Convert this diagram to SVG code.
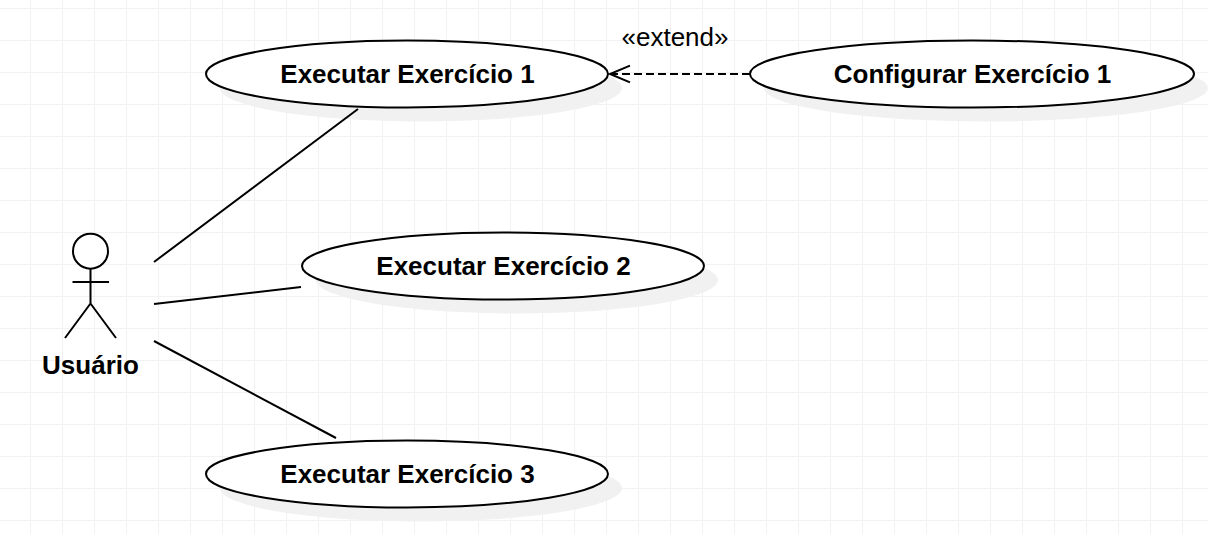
<svg xmlns="http://www.w3.org/2000/svg" width="1208" height="534" viewBox="0 0 1208 534">
<defs>
<pattern id="grid" width="32" height="32" patternUnits="userSpaceOnUse" x="30" y="8">
<path d="M0.5 0V32M0 0.5H32" fill="none" stroke="#f2f2f2" stroke-width="1"/>
</pattern>
<ellipse id="uc" cx="0" cy="0" rx="201" ry="33.5"/>
<marker id="open" markerUnits="userSpaceOnUse" markerWidth="24" markerHeight="24" refX="21" refY="10" orient="auto" overflow="visible">
<path d="M1 1.700L21 10L1 18.300" fill="none" stroke="#000" stroke-width="2"/>
</marker>
</defs>
<style>
.sh{fill:#f1f1f1;stroke:none}
.uc{fill:#fff;stroke:#000;stroke-width:2}
.line{fill:none;stroke:#000;stroke-width:2}
.t{font-family:"Liberation Sans",Arial,sans-serif;font-size:26px;font-weight:bold;fill:#000;text-anchor:middle}
.l{font-family:"Liberation Sans",Arial,sans-serif;font-size:26px;fill:#000;text-anchor:middle}
</style>
<rect width="1208" height="534" fill="#fff"/>
<rect width="1208" height="534" fill="url(#grid)"/>
<g id="uc1">
<use href="#uc" x="421" y="88" class="sh"/>
<use href="#uc" x="407" y="74" class="uc"/>
<text class="t" x="407.500" y="83">Executar Exercício 1</text>
</g>
<g id="uc2">
<use href="#uc" x="517" y="280" class="sh"/>
<use href="#uc" x="503" y="266" class="uc"/>
<text class="t" x="503.500" y="275">Executar Exercício 2</text>
</g>
<g id="uc3">
<use href="#uc" x="421" y="488" class="sh"/>
<use href="#uc" x="407" y="474" class="uc"/>
<text class="t" x="407.500" y="483">Executar Exercício 3</text>
</g>
<g id="config">
<ellipse class="sh" cx="986" cy="88" rx="222" ry="33.5"/>
<ellipse class="uc" cx="972" cy="74" rx="222" ry="33.5"/>
<text class="t" x="972.500" y="83">Configurar Exercício 1</text>
</g>
<g id="actor">
<circle cx="90.500" cy="251.200" r="17.500" fill="#fff" stroke="#000" stroke-width="2"/>
<path class="line" d="M90.500 268.500V303.500M72.500 282H109M90.500 303.500L65 338M90.500 303.500L116 338"/>
<text class="t" x="90.500" y="374">Usuário</text>
</g>
<g id="connectors">
<path class="line" d="M154 262L358 109"/>
<path class="line" d="M154 304L301 287"/>
<path class="line" d="M154 341L336 438"/>
<path class="line" stroke-dasharray="8 4" marker-end="url(#open)" d="M750 74H610"/>
<text class="l" x="675" y="46">«extend»</text>
</g>
</svg>
